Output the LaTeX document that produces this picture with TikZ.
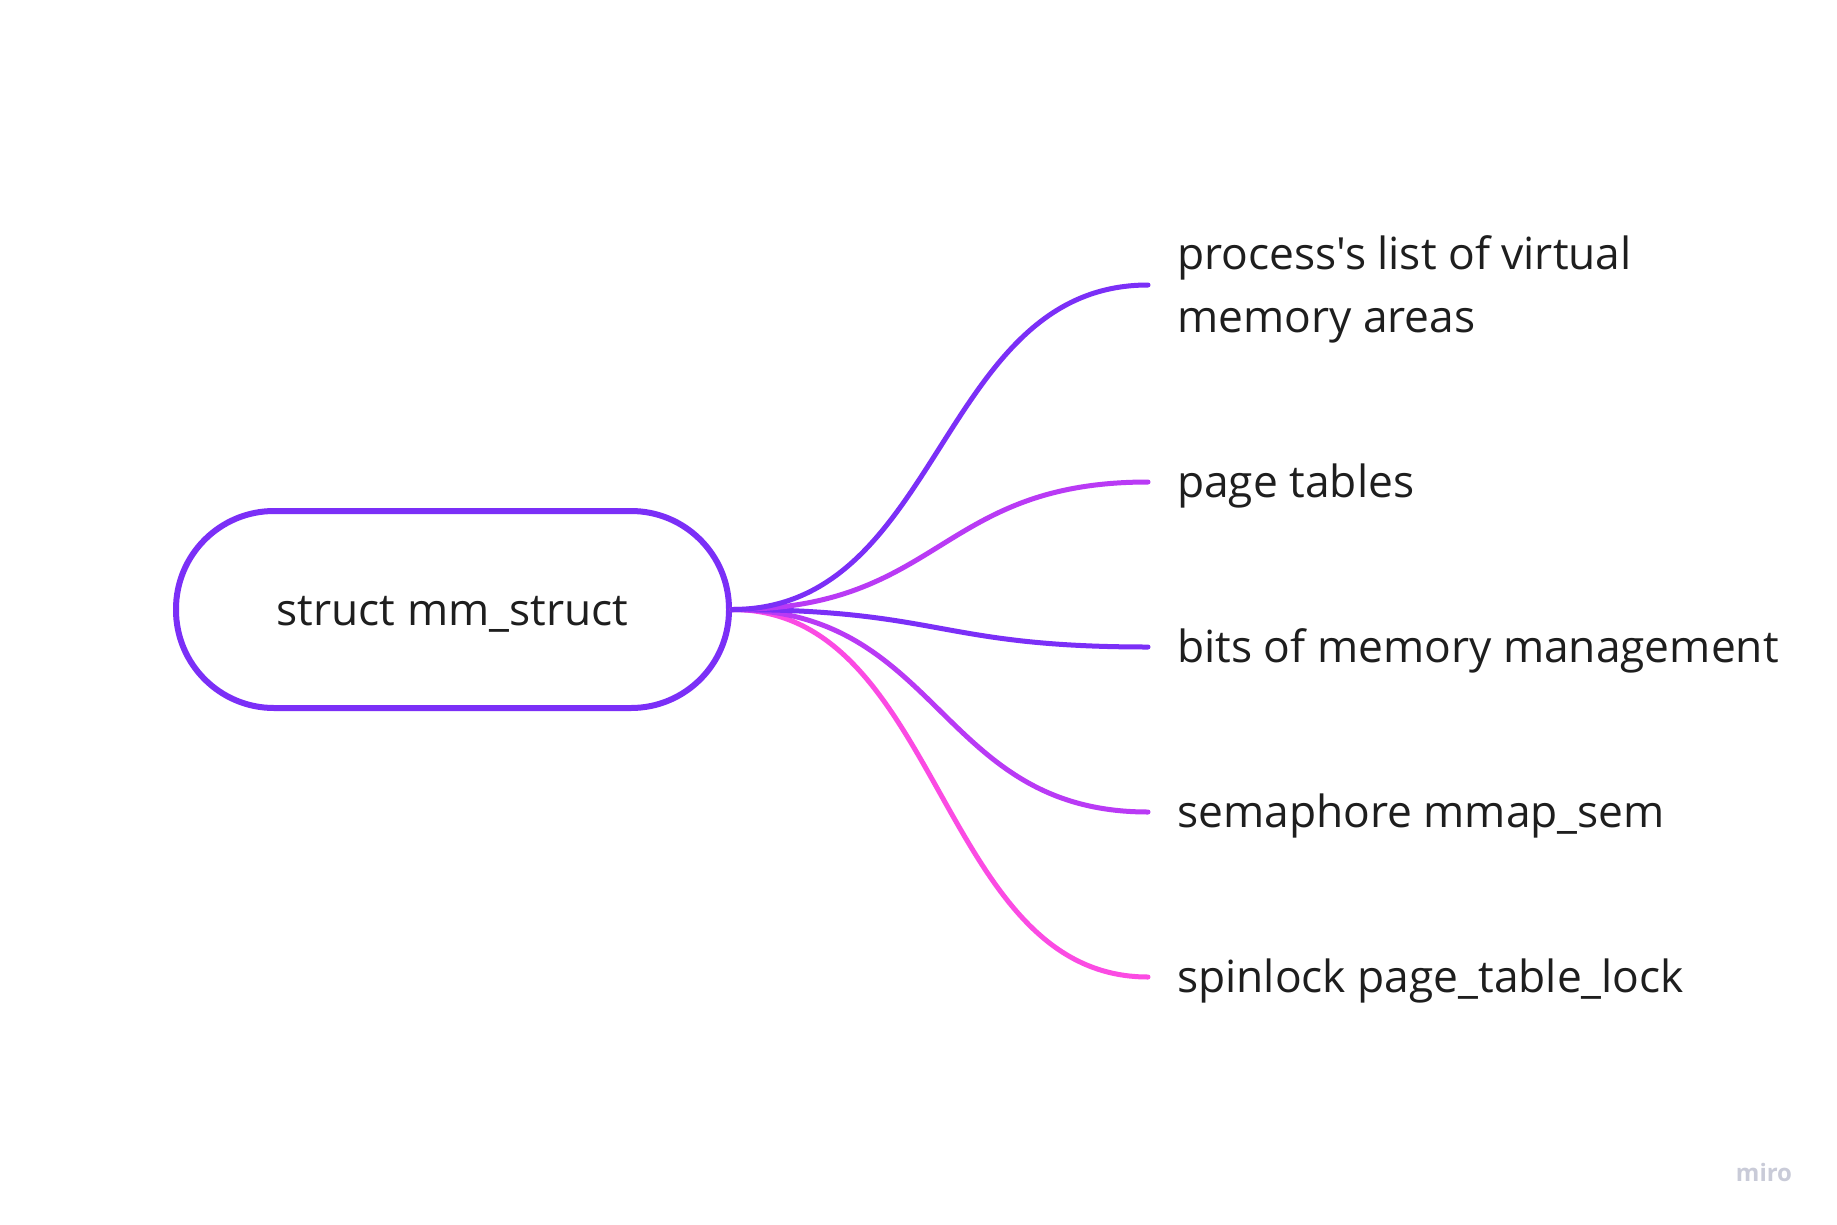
\documentclass[tikz,border=0pt]{standalone}
\usepackage{fontspec}
\setmainfont{Open Sans}[Ligatures=TeXOff]
\definecolor{cA}{HTML}{7B2FF7}
\definecolor{cB}{HTML}{B93AF5}
\definecolor{cC}{HTML}{FB4BE3}
\definecolor{txt}{HTML}{1E1E1E}
\definecolor{logo}{HTML}{C9CBD8}
\begin{document}
\begin{tikzpicture}[x=1pt,y=-1pt,
  rootbox/.style={draw=cA,line width=6pt,rounded corners=98pt,minimum width=553pt,minimum height=197pt,inner sep=0pt,text height=31pt,text depth=0pt,font=\fontsize{44.3}{50}\selectfont,text=txt},
  leaf/.style={anchor=west,inner sep=0pt,text height=31pt,text depth=0pt,font=\fontsize{44.3}{63}\selectfont,text=txt},
  conn/.style={line width=5pt,line cap=round,shorten >=29pt}]
\useasboundingbox (0,0) rectangle (1837,1224);
\fill[white] (0,0) rectangle (1837,1224);
\node[rootbox] (root) at (452.5,609.5) {struct mm\_struct};
\node[anchor=west,inner sep=0pt,align=left,text depth=2pt,font=\fontsize{44.3}{63}\selectfont,text=txt] (t1) at (1177,285) {process's list of virtual\\memory areas};
\node[leaf] (t2) at (1177,482) {page tables};
\node[leaf] (t3) at (1177,647) {bits of memory management};
\node[leaf] (t4) at (1177,812) {semaphore mmap\_sem};
\node[leaf] (t5) at (1177,977) {spinlock page\_table\_lock};
\draw[conn,cC] (root.east) .. controls +(210,0) and +(-239,0) .. (t5.west);
\draw[conn,cB] (root.east) .. controls +(210,0) and +(-239,0) .. (t4.west);
\draw[conn,cA] (root.east) .. controls +(210,0) and +(-239,0) .. (t3.west);
\draw[conn,cB] (root.east) .. controls +(210,0) and +(-239,0) .. (t2.west);
\draw[conn,cA] (root.east) .. controls +(210,0) and +(-239,0) .. (t1.west);
\node[font=\fontsize{24}{24}\selectfont\bfseries,text=logo,anchor=base] (logo) at (1764,1181) {miro};
\end{tikzpicture}
\end{document}
